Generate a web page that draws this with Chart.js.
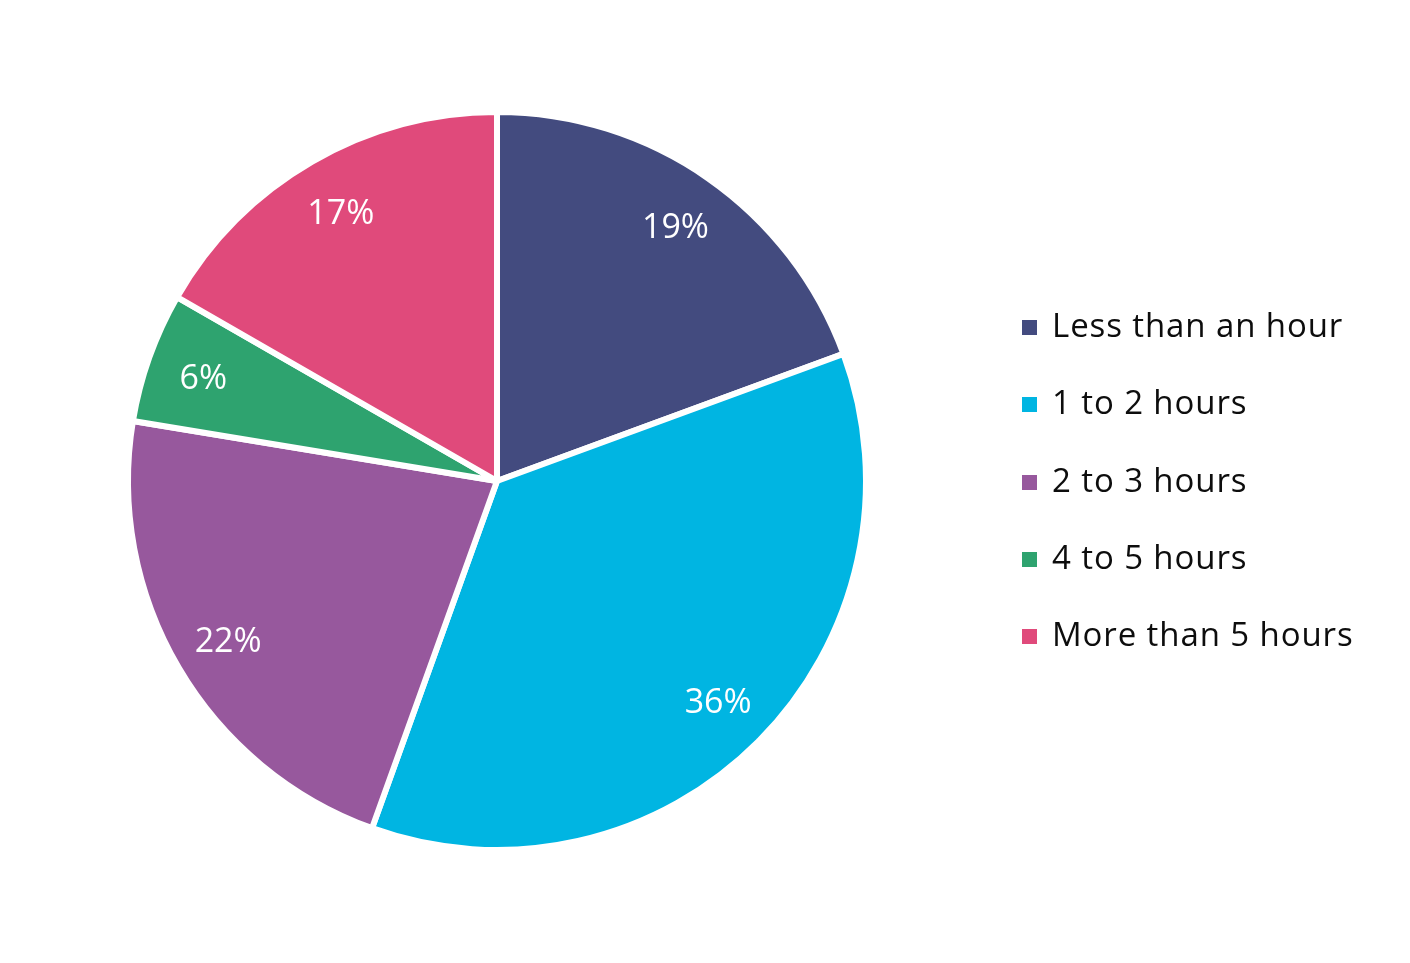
<!DOCTYPE html>
<html>
<head>
<meta charset="utf-8">
<script src="https://cdn.jsdelivr.net/npm/chart.js@4"></script>
<style>
  html, body { margin: 0; padding: 0; background: #fff; }
  #wrap { position: relative; width: 1410px; height: 963px; }
  #legend { position: absolute; left: 1022px; top: 302px; font-family: "Open Sans", sans-serif; font-size: 33px; letter-spacing: 0.9px; color: #0d0d0d; }
  #legend div { height: 77.3px; display: flex; align-items: flex-start; white-space: nowrap; }
  #legend span.box { display: inline-block; width: 15px; height: 15px; margin-top: 18px; margin-right: 15px; }
</style>
</head>
<body>
<div id="wrap">
  <canvas id="myChart" width="1410" height="963"></canvas>
  <div id="legend"></div>
</div>
<script>
var categories = ["Less than an hour", "1 to 2 hours", "2 to 3 hours", "4 to 5 hours", "More than 5 hours"];
var shares = [19.4, 36.1, 22.1, 5.7, 16.7];
var shareLabels = ["19%", "36%", "22%", "6%", "17%"];
var sliceColors = ["#434B7F", "#00B5E2", "#97589D", "#2EA36F", "#E04A7B"];

// white percentage labels inside each slice
var sliceLabels = {
  id: "sliceLabels",
  afterDatasetsDraw: function (chart) {
    var ctx = chart.ctx;
    var meta = chart.getDatasetMeta(0);
    ctx.save();
    ctx.fillStyle = "#fff";
    ctx.font = "34px 'Open Sans', sans-serif";
    ctx.textAlign = "center";
    ctx.textBaseline = "middle";
    meta.data.forEach(function (arc, i) {
      var p = arc.getProps(["x", "y", "startAngle", "endAngle", "outerRadius"]);
      var mid = (p.startAngle + p.endAngle) / 2;
      var r = p.outerRadius * 0.845;
      ctx.fillText(shareLabels[i], p.x + Math.cos(mid) * r, p.y + Math.sin(mid) * r + 3);
    });
    ctx.restore();
  },
};

new Chart("myChart", {
  type: "pie",
  data: {
    labels: categories,
    datasets: [
      {
        data: shares,
        backgroundColor: sliceColors,
        borderColor: "#fff",
        borderWidth: 6,
      },
    ],
  },
  options: {
    responsive: false,
    animation: false,
    layout: {
      padding: { left: 125, right: 541, top: 109, bottom: 110 },
    },
    plugins: {
      legend: { display: false },
      tooltip: { enabled: false },
    },
  },
  plugins: [sliceLabels],
});

var legendEl = document.getElementById("legend");
categories.forEach(function (c, i) {
  var row = document.createElement("div");
  var box = document.createElement("span");
  box.className = "box";
  box.style.background = sliceColors[i];
  row.appendChild(box);
  row.appendChild(document.createTextNode(c));
  legendEl.appendChild(row);
});
</script>
</body>
</html>
